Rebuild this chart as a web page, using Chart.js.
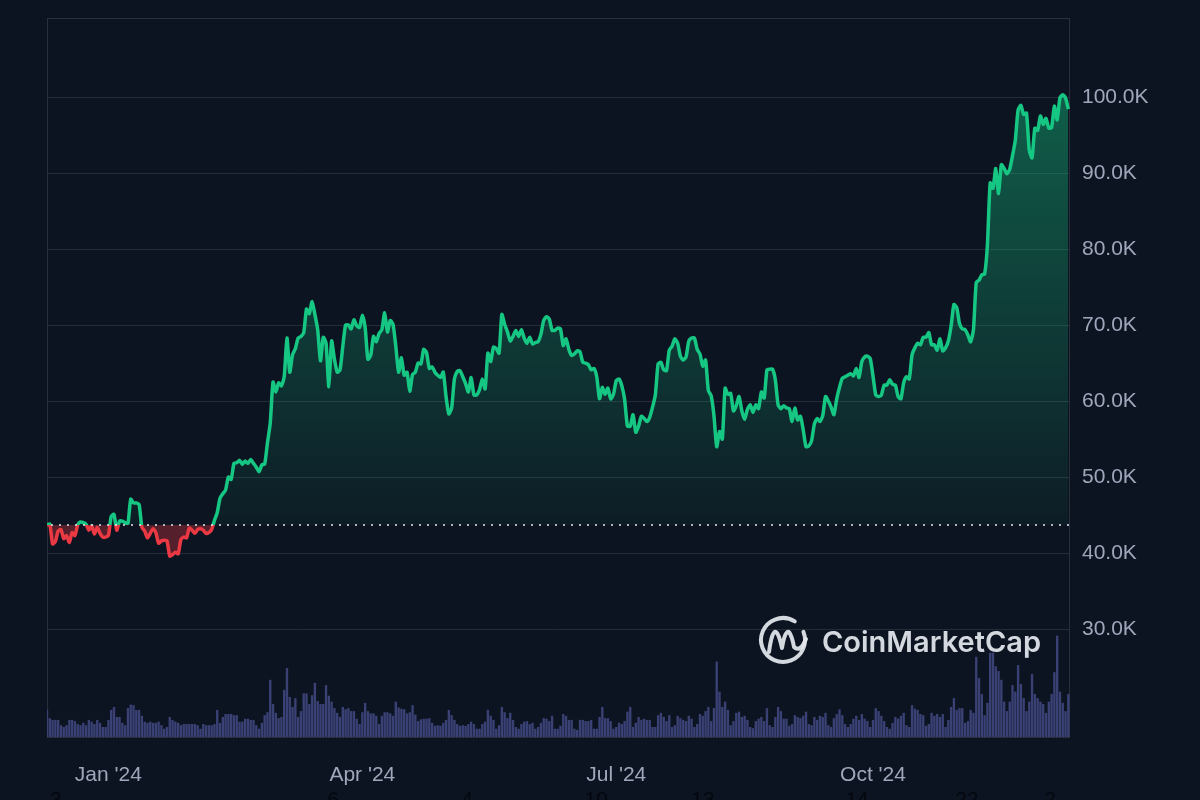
<!DOCTYPE html>
<html>
<head>
<meta charset="utf-8">
<script src="https://cdn.jsdelivr.net/npm/chart.js@4.4.1/dist/chart.umd.min.js"></script>
<style>
html, body { margin: 0; padding: 0; background: #0d1421; }
#wrap { width: 1200px; height: 800px; position: relative; }
</style>
</head>
<body>
<div id="wrap"><canvas id="btcChart" width="1200" height="800"></canvas></div>
<script>
// daily close, thousands USD, 9 Dec 2023 .. 9 Dec 2024
const prices = [
  // Dec 2023 (9-31)
  43.7, 43.8, 41.2, 41.5, 42.9, 43.1, 41.9, 42.3, 41.4, 42.7, 42.3, 43.7, 44.1, 44.0, 43.8, 43.0, 43.6, 42.5, 43.4, 42.6, 42.1, 42.1, 42.3,
  // Jan
  44.8, 45.1, 43.0, 44.2, 44.2, 44.0, 43.9, 47.1, 46.6, 46.6, 46.4, 43.4, 42.9, 42.0, 42.6, 43.2, 42.7, 41.3, 41.6, 41.7, 41.6, 39.6, 39.8, 40.1, 39.9, 41.8, 42.1, 42.0, 43.3, 43.0, 42.6,
  // Feb
  43.1, 43.2, 43.0, 42.6, 42.7, 43.1, 44.3, 45.3, 47.2, 47.8, 48.3, 50.0, 49.7, 51.8, 51.9, 52.2, 51.7, 52.1, 51.8, 52.3, 51.8, 51.3, 50.7, 51.6, 51.7, 54.5, 57.1, 62.5, 61.2,
  // Mar
  62.4, 62.0, 63.2, 68.3, 63.8, 66.1, 66.9, 68.3, 68.5, 69.0, 72.1, 71.5, 73.1, 71.4, 69.4, 65.3, 68.4, 67.6, 61.9, 67.9, 65.5, 63.8, 64.1, 67.2, 70.0, 70.0, 69.5, 70.7, 69.9, 69.7, 71.3,
  // Apr
  69.7, 65.5, 66.0, 68.5, 67.8, 68.9, 69.4, 71.6, 69.1, 70.6, 70.1, 67.2, 63.8, 65.7, 63.4, 63.8, 61.3, 63.5, 63.8, 65.0, 64.9, 66.8, 66.4, 64.3, 64.5, 63.8, 63.4, 63.1, 63.8, 60.6,
  // May
  58.3, 59.1, 62.9, 63.9, 64.0, 63.2, 62.3, 61.2, 63.1, 60.8, 60.8, 61.5, 62.9, 61.6, 66.3, 65.2, 67.1, 66.9, 66.3, 71.4, 70.1, 69.1, 67.9, 68.5, 69.3, 68.5, 69.4, 68.3, 67.6, 68.4, 67.5,
  // Jun
  67.7, 67.8, 68.8, 70.6, 71.1, 70.8, 69.3, 69.3, 69.6, 69.5, 67.3, 68.2, 66.8, 66.0, 66.2, 66.6, 66.5, 65.1, 65.0, 64.8, 64.1, 64.3, 63.2, 60.3, 61.8, 60.9, 61.7, 60.3, 60.9, 62.7,
  // Jul
  62.9, 62.0, 60.2, 56.7, 56.7, 58.2, 55.9, 56.7, 58.0, 57.7, 57.3, 57.9, 59.2, 60.8, 64.9, 65.1, 64.1, 64.0, 66.7, 67.2, 68.2, 67.6, 65.9, 65.4, 65.8, 67.9, 68.3, 68.3, 66.8, 66.2, 64.6,
  // Aug
  65.4, 61.4, 60.7, 58.1, 54.0, 56.0, 55.0, 61.7, 60.9, 61.0, 58.7, 59.4, 60.6, 58.7, 57.6, 58.9, 59.5, 58.5, 59.5, 59.0, 61.2, 60.4, 64.1, 64.2, 64.2, 62.8, 59.5, 59.0, 59.4, 59.1, 59.0,
  // Sep
  57.3, 59.1, 57.5, 58.0, 56.2, 54.0, 54.1, 54.8, 57.0, 57.7, 57.3, 58.1, 60.6, 60.0, 59.2, 58.2, 60.3, 61.8, 63.0, 63.2, 63.4, 63.6, 63.3, 64.3, 63.1, 65.2, 65.8, 65.9, 65.6, 63.3,
  // Oct
  60.8, 60.6, 60.8, 62.1, 62.1, 62.8, 62.2, 62.1, 60.6, 60.3, 62.4, 63.2, 62.9, 66.1, 67.0, 67.6, 67.4, 68.4, 68.4, 69.0, 67.4, 67.4, 66.7, 68.2, 66.6, 67.0, 67.9, 69.9, 72.7, 72.3, 70.2,
  // Nov
  69.5, 69.4, 68.7, 67.8, 69.4, 75.6, 75.9, 76.6, 76.7, 80.5, 88.7, 88.0, 90.6, 87.3, 91.1, 90.6, 89.9, 90.5, 92.3, 94.3, 98.3, 98.9, 97.7, 97.9, 93.0, 92.0, 95.9, 95.6, 97.5, 96.4,
  // Dec 2024 (1-9)
  97.2, 95.9, 96.0, 98.8, 97.0, 99.9, 100.3, 99.9, 98.4
];

// daily volume, billions USD
const volumes = [
  46, 32, 29, 29, 29, 20, 17, 20, 29, 29, 27, 22, 20, 24, 20, 29, 26, 22, 29, 24, 17, 17, 29,
  46, 51, 34, 34, 24, 20, 49, 55, 54, 46, 46, 36, 26, 24, 26, 24, 24, 26, 20, 14, 17, 34, 29, 26, 24, 20, 22, 22, 22, 22, 22,
  20, 14, 22, 20, 20, 20, 22, 46, 24, 34, 39, 39, 39, 37, 37, 26, 26, 31, 31, 29, 29, 20, 14, 24, 37, 42, 97, 56, 41,
  32, 34, 80, 117, 68, 51, 66, 34, 44, 74, 74, 56, 71, 92, 61, 56, 56, 88, 70, 60, 49, 41, 34, 51, 47, 49, 44, 44, 31, 22,
  42, 58, 44, 40, 40, 36, 22, 36, 42, 42, 40, 36, 60, 50, 48, 47, 40, 42, 54, 38, 27, 30, 31, 31, 32, 24, 19, 20, 19, 24, 29,
  46, 37, 29, 22, 19, 20, 19, 22, 26, 22, 14, 14, 22, 26, 46, 36, 29, 14, 20, 51, 42, 32, 41, 29, 17, 14, 22, 26, 27, 22, 24,
  14, 17, 24, 32, 31, 27, 36, 14, 14, 19, 39, 36, 29, 29, 14, 12, 29, 29, 27, 27, 29, 14, 14, 34, 51, 32, 32, 27, 14, 17,
  24, 22, 27, 43, 51, 17, 24, 34, 29, 31, 29, 29, 17, 17, 37, 41, 34, 27, 37, 17, 20, 36, 32, 29, 27, 36, 31, 17, 22, 39, 36,
  44, 51, 27, 49, 128, 77, 51, 60, 46, 20, 27, 41, 43, 34, 36, 29, 17, 15, 27, 31, 34, 27, 49, 20, 17, 34, 51, 44, 31, 31, 19,
  22, 37, 34, 32, 36, 43, 22, 20, 34, 29, 36, 34, 41, 20, 17, 32, 39, 47, 37, 22, 17, 22, 31, 36, 29, 39, 31, 27, 17, 29,
  49, 44, 36, 27, 17, 14, 24, 34, 31, 36, 41, 20, 17, 54, 48, 46, 39, 37, 19, 22, 41, 36, 39, 34, 39, 17, 29, 51, 66, 46, 49,
  49, 24, 27, 46, 41, 136, 100, 73, 37, 58, 143, 143, 120, 112, 97, 60, 44, 60, 88, 77, 122, 90, 66, 44, 60, 107, 73, 66, 60, 56,
  41, 60, 73, 110, 172, 77, 58, 44, 73
];

const priceTicks = [30, 40, 50, 60, 70, 80, 90, 100];
const monthTickIdx = [22, 113, 204, 296];
const monthTickLabels = ["Jan '24", "Apr '24", "Jul '24", "Oct '24"];
const dayTickIdx = [3.2, 102.5, 150.5, 196.8, 235.1, 290.3, 329.7, 359.5];
const dayTickLabels = ['3', '6', '4', '10', '13', '14', '22', '2'];

const BASE = prices[0];
const GREEN = '#16c784';
const RED = '#ea3943';
const FONT = '"Liberation Sans", Arial, sans-serif';

function strokeColor(ctx){
    const chart = ctx.chart, area = chart.chartArea;
    if (!area) return GREEN;
    const y0 = chart.scales.y.getPixelForValue(BASE);
    const s = Math.min(1, Math.max(0, (y0 - area.top) / (area.bottom - area.top)));
    const g = chart.ctx.createLinearGradient(0, area.top, 0, area.bottom);
    g.addColorStop(0, GREEN); g.addColorStop(s, GREEN);
    g.addColorStop(s, RED); g.addColorStop(1, RED);
    return g;
}

function greenFill(ctx){
    const chart = ctx.chart, area = chart.chartArea;
    if (!area) return 'rgba(22,199,132,0.2)';
    const y0 = chart.scales.y.getPixelForValue(BASE);
    const g = chart.ctx.createLinearGradient(0, area.top, 0, y0);
    g.addColorStop(0, 'rgba(22,199,132,0.48)');
    g.addColorStop(1, 'rgba(22,199,132,0.05)');
    return g;
}

function noPad(s){
    s.paddingTop = 0; s.paddingBottom = 0; s.paddingLeft = 0; s.paddingRight = 0;
}

// frame, dotted open-price line, faint day numbers, watermark
const decor = {
    id: 'decor',
    beforeDatasetsDraw(chart){
        const { ctx, chartArea: a } = chart;
        ctx.save();
        ctx.strokeStyle = '#2a2f3c';
        ctx.lineWidth = 1;
        ctx.strokeRect(a.left + 0.5, a.top + 0.5, a.right - a.left - 1, a.bottom - a.top);
        ctx.restore();
    },
    afterDatasetsDraw(chart){
        const { ctx, chartArea: a, scales } = chart;
        const y0 = Math.round(scales.y.getPixelForValue(BASE));
        ctx.save();
        ctx.strokeStyle = 'rgba(230,233,240,0.75)';
        ctx.lineWidth = 2;
        ctx.setLineDash([2, 6]);
        ctx.beginPath(); ctx.moveTo(a.left + 4, y0); ctx.lineTo(a.right, y0); ctx.stroke();
        ctx.setLineDash([]);

        // watermark
        const col = 'rgba(228,231,238,0.93)';
        ctx.strokeStyle = col; ctx.fillStyle = col;
        ctx.lineWidth = 4; ctx.lineCap = 'round'; ctx.lineJoin = 'round';
        ctx.beginPath(); ctx.arc(783, 640, 22, -0.12 * Math.PI, 1.68 * Math.PI); ctx.stroke();
        ctx.beginPath();
        ctx.moveTo(769, 652);
        ctx.quadraticCurveTo(772, 630, 776, 632);
        ctx.quadraticCurveTo(779, 634, 782, 648);
        ctx.quadraticCurveTo(785, 630, 789, 632);
        ctx.quadraticCurveTo(792, 636, 794, 647);
        ctx.quadraticCurveTo(800, 653, 806, 639);
        ctx.stroke();
        ctx.font = '600 29px Inter, "Noto Sans", sans-serif';
        ctx.textBaseline = 'alphabetic';
        ctx.textAlign = 'left';
        ctx.fillText('CoinMarketCap', 822, 652);

        ctx.font = '21px ' + FONT;
        ctx.fillStyle = '#04070d';
        ctx.textAlign = 'center';
        dayTickIdx.forEach((v, i) => ctx.fillText(dayTickLabels[i], scales.x.getPixelForValue(v), 806));
        ctx.restore();
    }
};

new Chart(document.getElementById('btcChart').getContext('2d'), {
    data: {
        datasets: [
            {
                type: 'line',
                data: prices.map((p, i) => ({ x: i, y: p })),
                yAxisID: 'y',
                borderColor: strokeColor,
                backgroundColor: greenFill,
                borderWidth: 3.5,
                pointRadius: 0,
                tension: 0.2,
                fill: { target: { value: BASE }, below: 'rgba(234,57,67,0.33)' },
                order: 0
            },
            {
                type: 'bar',
                data: volumes.map((v, i) => ({ x: i, y: v })),
                yAxisID: 'yv',
                backgroundColor: '#3a4174',
                barPercentage: 0.85,
                categoryPercentage: 1,
                order: 1
            }
        ]
    },
    options: {
        responsive: false,
        animation: false,
        layout: { padding: { left: 47, top: 18, right: 0, bottom: 0 } },
        plugins: { legend: { display: false }, tooltip: { enabled: false } },
        scales: {
            x: {
                type: 'linear', min: 0, max: 366.6, offset: false,
                grid: { display: false }, border: { display: false },
                afterBuildTicks: s => { s.ticks = monthTickIdx.map(v => ({ value: v })); },
                afterFit: s => { s.height = 63; noPad(s); },
                ticks: {
                    autoSkip: false, maxRotation: 0, padding: 18, color: '#a1a7bb',
                    font: { family: FONT, size: 21 },
                    callback: v => monthTickLabels[monthTickIdx.indexOf(v)]
                }
            },
            y: {
                position: 'right', min: 15.8, max: 110.4,
                afterBuildTicks: s => { s.ticks = priceTicks.map(v => ({ value: v })); },
                afterFit: s => { s.width = 130; noPad(s); },
                grid: { color: '#262b38', drawTicks: false },
                border: { display: false },
                ticks: {
                    padding: 12, color: '#a1a7bb',
                    font: { family: FONT, size: 21 },
                    callback: v => v.toFixed(1) + 'K'
                }
            },
            yv: { display: false, min: 0, max: 1220 }
        }
    },
    plugins: [decor]
});
</script>
</body>
</html>
